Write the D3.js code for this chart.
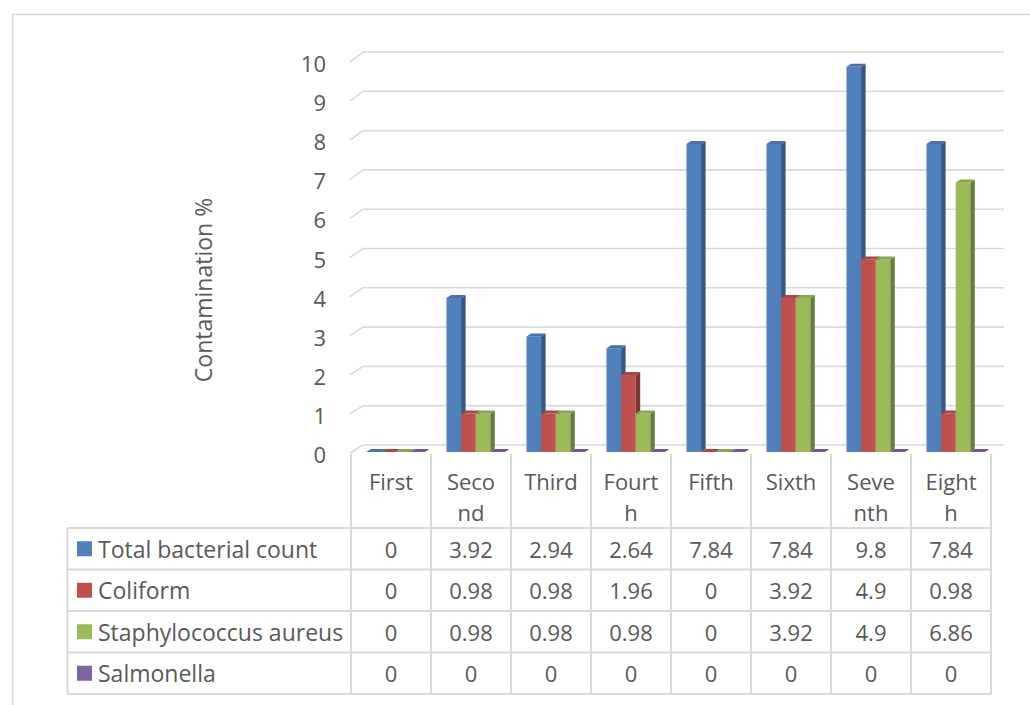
<!DOCTYPE html>
<html>
<head>
<meta charset="utf-8">
<script src="https://cdn.jsdelivr.net/npm/d3@7"></script>
<style>
  html, body { margin: 0; padding: 0; background: #fff; }
  svg { display: block; }
  text { font-family: "Open Sans", "Noto Sans", sans-serif; fill: #595959; }
</style>
</head>
<body>
<svg id="chart" width="1030" height="705"></svg>
<script>
// ---------- data ----------
const categories = ["First", "Second", "Third", "Fourth", "Fifth", "Sixth", "Seventh", "Eighth"];
const categoryLines = [["First"], ["Seco", "nd"], ["Third"], ["Fourt", "h"], ["Fifth"], ["Sixth"], ["Seve", "nth"], ["Eight", "h"]];
const seriesNames = ["Total bacterial count", "Coliform", "Staphylococcus aureus", "Salmonella"];
const totalBacterialCount = [0, 3.92, 2.94, 2.64, 7.84, 7.84, 9.8, 7.84];
const coliform = [0, 0.98, 0.98, 1.96, 0, 3.92, 4.9, 0.98];
const staphylococcusAureus = [0, 0.98, 0.98, 0.98, 0, 3.92, 4.9, 6.86];
const salmonella = [0, 0, 0, 0, 0, 0, 0, 0];
const seriesValues = [totalBacterialCount, coliform, staphylococcusAureus, salmonella];
const seriesColors = ["#4F81BD", "#C0504D", "#9BBB59", "#8064A2"];
const yTicks = [0, 1, 2, 3, 4, 5, 6, 7, 8, 9, 10];
const yTitle = "Contamination %";

// ---------- layout ----------
const svg = d3.select("#chart");
const FONT = 23;
const gridColor = "#D9D9D9";
const plotLeft = 351, plotRight = 991;
const depthX = 13, depthY = -8;

// chart area border
svg.append("rect").attr("x", 12.5).attr("y", 14.5).attr("width", 1040).attr("height", 720)
  .attr("fill", "#fff").attr("stroke", gridColor).attr("stroke-width", 1.5);

const x = d3.scaleBand().domain(categories).range([plotLeft, plotRight]).padding(0);
const yFront = d3.scaleLinear().domain([0, 10]).range([453, 62]);
const yBack = d3.scaleLinear().domain([0, 10]).range([445, 52]);
const yBar = d3.scaleLinear().domain([0, 10]).range([452, 59]);
const xSeries = d3.scaleBand().domain(d3.range(seriesNames.length)).range([15.5, 15.5 + 4 * 14.6]).padding(0);

// gridlines (floor + back wall)
svg.append("g").selectAll("path").data(yTicks).join("path")
  .attr("d", v => `M${plotLeft - 1},${yFront(v)} L${plotLeft + depthX - 1},${yBack(v)} L${plotRight + depthX},${yBack(v)}`)
  .attr("fill", "none").attr("stroke", gridColor).attr("stroke-width", 1.6);

// y axis labels
svg.append("g").selectAll("text").data(yTicks).join("text")
  .attr("x", 326).attr("y", v => yFront(v) + 1)
  .attr("text-anchor", "end").attr("dominant-baseline", "central")
  .attr("font-size", FONT - 1).text(v => v);

// y title
svg.append("text").attr("transform", "translate(203,290) rotate(-90)")
  .attr("text-anchor", "middle").attr("dominant-baseline", "central")
  .attr("font-size", FONT).text(yTitle);

// bars (3D columns)
const bw = xSeries.bandwidth();
const bdx = 4.5, bdy = -3;
const barG = svg.append("g");
categories.forEach((c, i) => {
  seriesValues.forEach((vals, s) => {
    const v = vals[i];
    const x0 = x(c) + xSeries(s);
    const x1 = x0 + bw;
    const yt = yBar(v), yb = yBar(0);
    const col = d3.color(seriesColors[s]);
    const g = barG.append("g");
    if (v > 0) {
      g.append("rect").attr("x", x0).attr("y", yt).attr("width", bw).attr("height", yb - yt)
        .attr("fill", col.formatHex());
      g.append("path")
        .attr("d", `M${x1},${yt} L${x1 + bdx},${yt + bdy} L${x1 + bdx},${yb + bdy} L${x1},${yb} Z`)
        .attr("fill", col.darker(1.1).formatHex());
    }
    g.append("path")
      .attr("d", `M${x0},${yt} L${x1},${yt} L${x1 + bdx},${yt + bdy} L${x0 + bdx},${yt + bdy} Z`)
      .attr("fill", col.darker(0.35).formatHex());
  });
});

// ---------- data table ----------
const headTop = 454, headBottom = 528;
const rowH = 41.5;
const tableLeft = 67.5;
const rows = seriesNames.map((n, s) => ({ name: n, vals: seriesValues[s], color: seriesColors[s], y0: headBottom + s * rowH }));
const tableBottom = headBottom + rows.length * rowH;
const tg = svg.append("g");
const line = (x1, y1, x2, y2) => tg.append("line").attr("x1", x1).attr("y1", y1).attr("x2", x2).attr("y2", y2)
  .attr("stroke", gridColor).attr("stroke-width", 2);

// vertical lines
categories.forEach((c, i) => line(x(c), headTop, x(c), tableBottom));
line(plotRight, headTop, plotRight, tableBottom);
line(tableLeft, headBottom, tableLeft, tableBottom);
// horizontal lines
for (let r = 0; r <= rows.length; r++) line(tableLeft, headBottom + r * rowH, plotRight, headBottom + r * rowH);

// header labels
categories.forEach((c, i) => {
  categoryLines[i].forEach((t, k) => {
    tg.append("text").attr("x", x(c) + x.bandwidth() / 2).attr("y", 490 + k * 31)
      .attr("text-anchor", "middle").attr("font-size", FONT - 1).text(t);
  });
});

// row labels + legend keys + values
rows.forEach(r => {
  const cy = r.y0 + rowH / 2;
  tg.append("rect").attr("x", 77).attr("y", cy - 7.5).attr("width", 15).attr("height", 15).attr("fill", r.color);
  tg.append("text").attr("x", 98).attr("y", cy).attr("dominant-baseline", "central")
    .attr("font-size", FONT).text(r.name);
  categories.forEach((c, i) => {
    tg.append("text").attr("x", x(c) + x.bandwidth() / 2).attr("y", cy)
      .attr("text-anchor", "middle").attr("dominant-baseline", "central")
      .attr("font-size", FONT - 1).text(r.vals[i]);
  });
});
</script>
</body>
</html>
